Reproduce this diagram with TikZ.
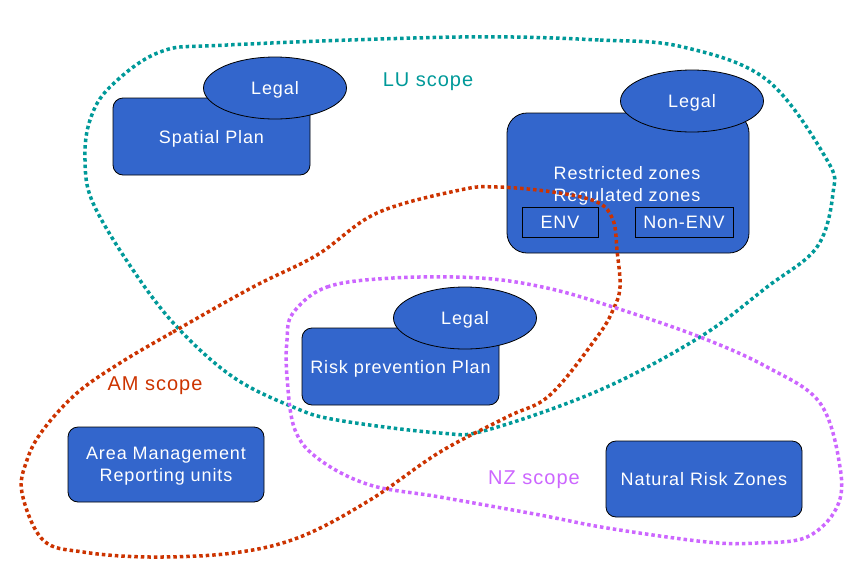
\documentclass[tikz,border=0pt]{standalone}
\usepackage{fontspec}
\setsansfont{Liberation Sans}[LetterSpace=5]
\usetikzlibrary{shapes.geometric, positioning}
\definecolor{boxblue}{HTML}{3366CC}
\definecolor{luteal}{HTML}{009999}
\definecolor{amred}{HTML}{CC3300}
\definecolor{nzviolet}{HTML}{CC66FF}
\tikzstyle{plan} = [rectangle, rounded corners=10pt, minimum width=197pt, minimum height=77pt, text centered, align=center, text depth=0pt, draw=black, line width=0.8pt, fill=boxblue, text=white, font=\sffamily\fontsize{18}{22}\selectfont]
\tikzstyle{legal} = [ellipse, minimum width=143pt, minimum height=62pt, inner sep=0pt, text depth=0pt, draw=black, line width=0.8pt, fill=boxblue, text=white, font=\sffamily\fontsize{18}{22}\selectfont]
\tikzstyle{zone} = [rectangle, minimum height=30pt, inner sep=0pt, text depth=0pt, draw=black, line width=0.8pt, text=white, font=\sffamily\fontsize{18}{22}\selectfont]
\tikzstyle{scope} = [dash pattern=on 3.5pt off 3pt, line width=3.5pt]
\tikzstyle{scopelabel} = [text depth=0pt, font=\sffamily\fontsize{20}{24}\selectfont]

\begin{document}
\begin{tikzpicture}[x=1pt, y=-1pt]
	\useasboundingbox (0,0) rectangle (865,584);
	% plans
	\node (spatial) [plan] at (211.5,136.5) {Spatial Plan};
		\node (legalA) [legal] at (275,88) {Legal};
	\node (zones) [plan, rounded corners=20pt, minimum width=242pt, minimum height=140pt] at (628,183) {};
		\node (legalB) [legal] at (692,101) {Legal};
		\node (zonestext) [text=white, align=center, text depth=0pt, font=\sffamily\fontsize{18}{22}\selectfont] at (627,184) {Restricted zones\\Regulated zones};
		\node (env) [zone, minimum width=76pt] at (560,222) {ENV};
		\node (nonenv) [zone, minimum width=98pt] at (684,222) {Non-ENV};
	\node (riskplan) [plan] at (400.5,366.5) {Risk prevention Plan};
		\node (legalC) [legal] at (465,318) {Legal};
	\node (reporting) [plan, minimum width=196pt, minimum height=75pt] at (166,464.5) {Area Management\\Reporting units};
	\node (riskzones) [plan, minimum width=196pt, minimum height=76pt] at (704,479) {Natural Risk Zones};
	% scopes
	\draw [scope, luteal] plot [smooth cycle, tension=0.6] coordinates {(460,37) (600,40) (683,47) (767,80) (827,160) (833,193) (817,247) (767,287) (700,337) (600,390) (487,430) (440,433) (337,420) (293,407) (233,377) (177,327) (133,270) (93,203) (85,160) (90,120) (110,87) (160,52) (227,45)};
	\draw [scope, amred] plot [smooth cycle, tension=0.6] coordinates {(120,363) (173,332) (253,287) (317,255) (377,213) (460,190) (497,187) (553,192) (597,202) (613,220) (617,250) (620,287) (613,310) (597,337) (550,395) (507,417) (440,452) (370,500) (300,537) (233,553) (150,557) (83,552) (43,540) (22,493) (27,460) (43,430) (77,393)};
	\draw [scope, nzviolet] plot [smooth cycle, tension=0.6] coordinates {(293,313) (327,287) (393,278) (480,278) (547,288) (613,307) (700,337) (767,367) (820,403) (840,467) (837,507) (807,537) (757,543) (707,542) (607,528) (540,515) (440,497) (370,485) (320,460) (295,430) (287,377) (287,340)};
	\node (lulabel) [scopelabel, text=luteal] at (428,80) {LU scope};
	\node (amlabel) [scopelabel, text=amred] at (155,384) {AM scope};
	\node (nzlabel) [scopelabel, text=nzviolet] at (534,478) {NZ scope};
	\end{tikzpicture}
\end{document}
